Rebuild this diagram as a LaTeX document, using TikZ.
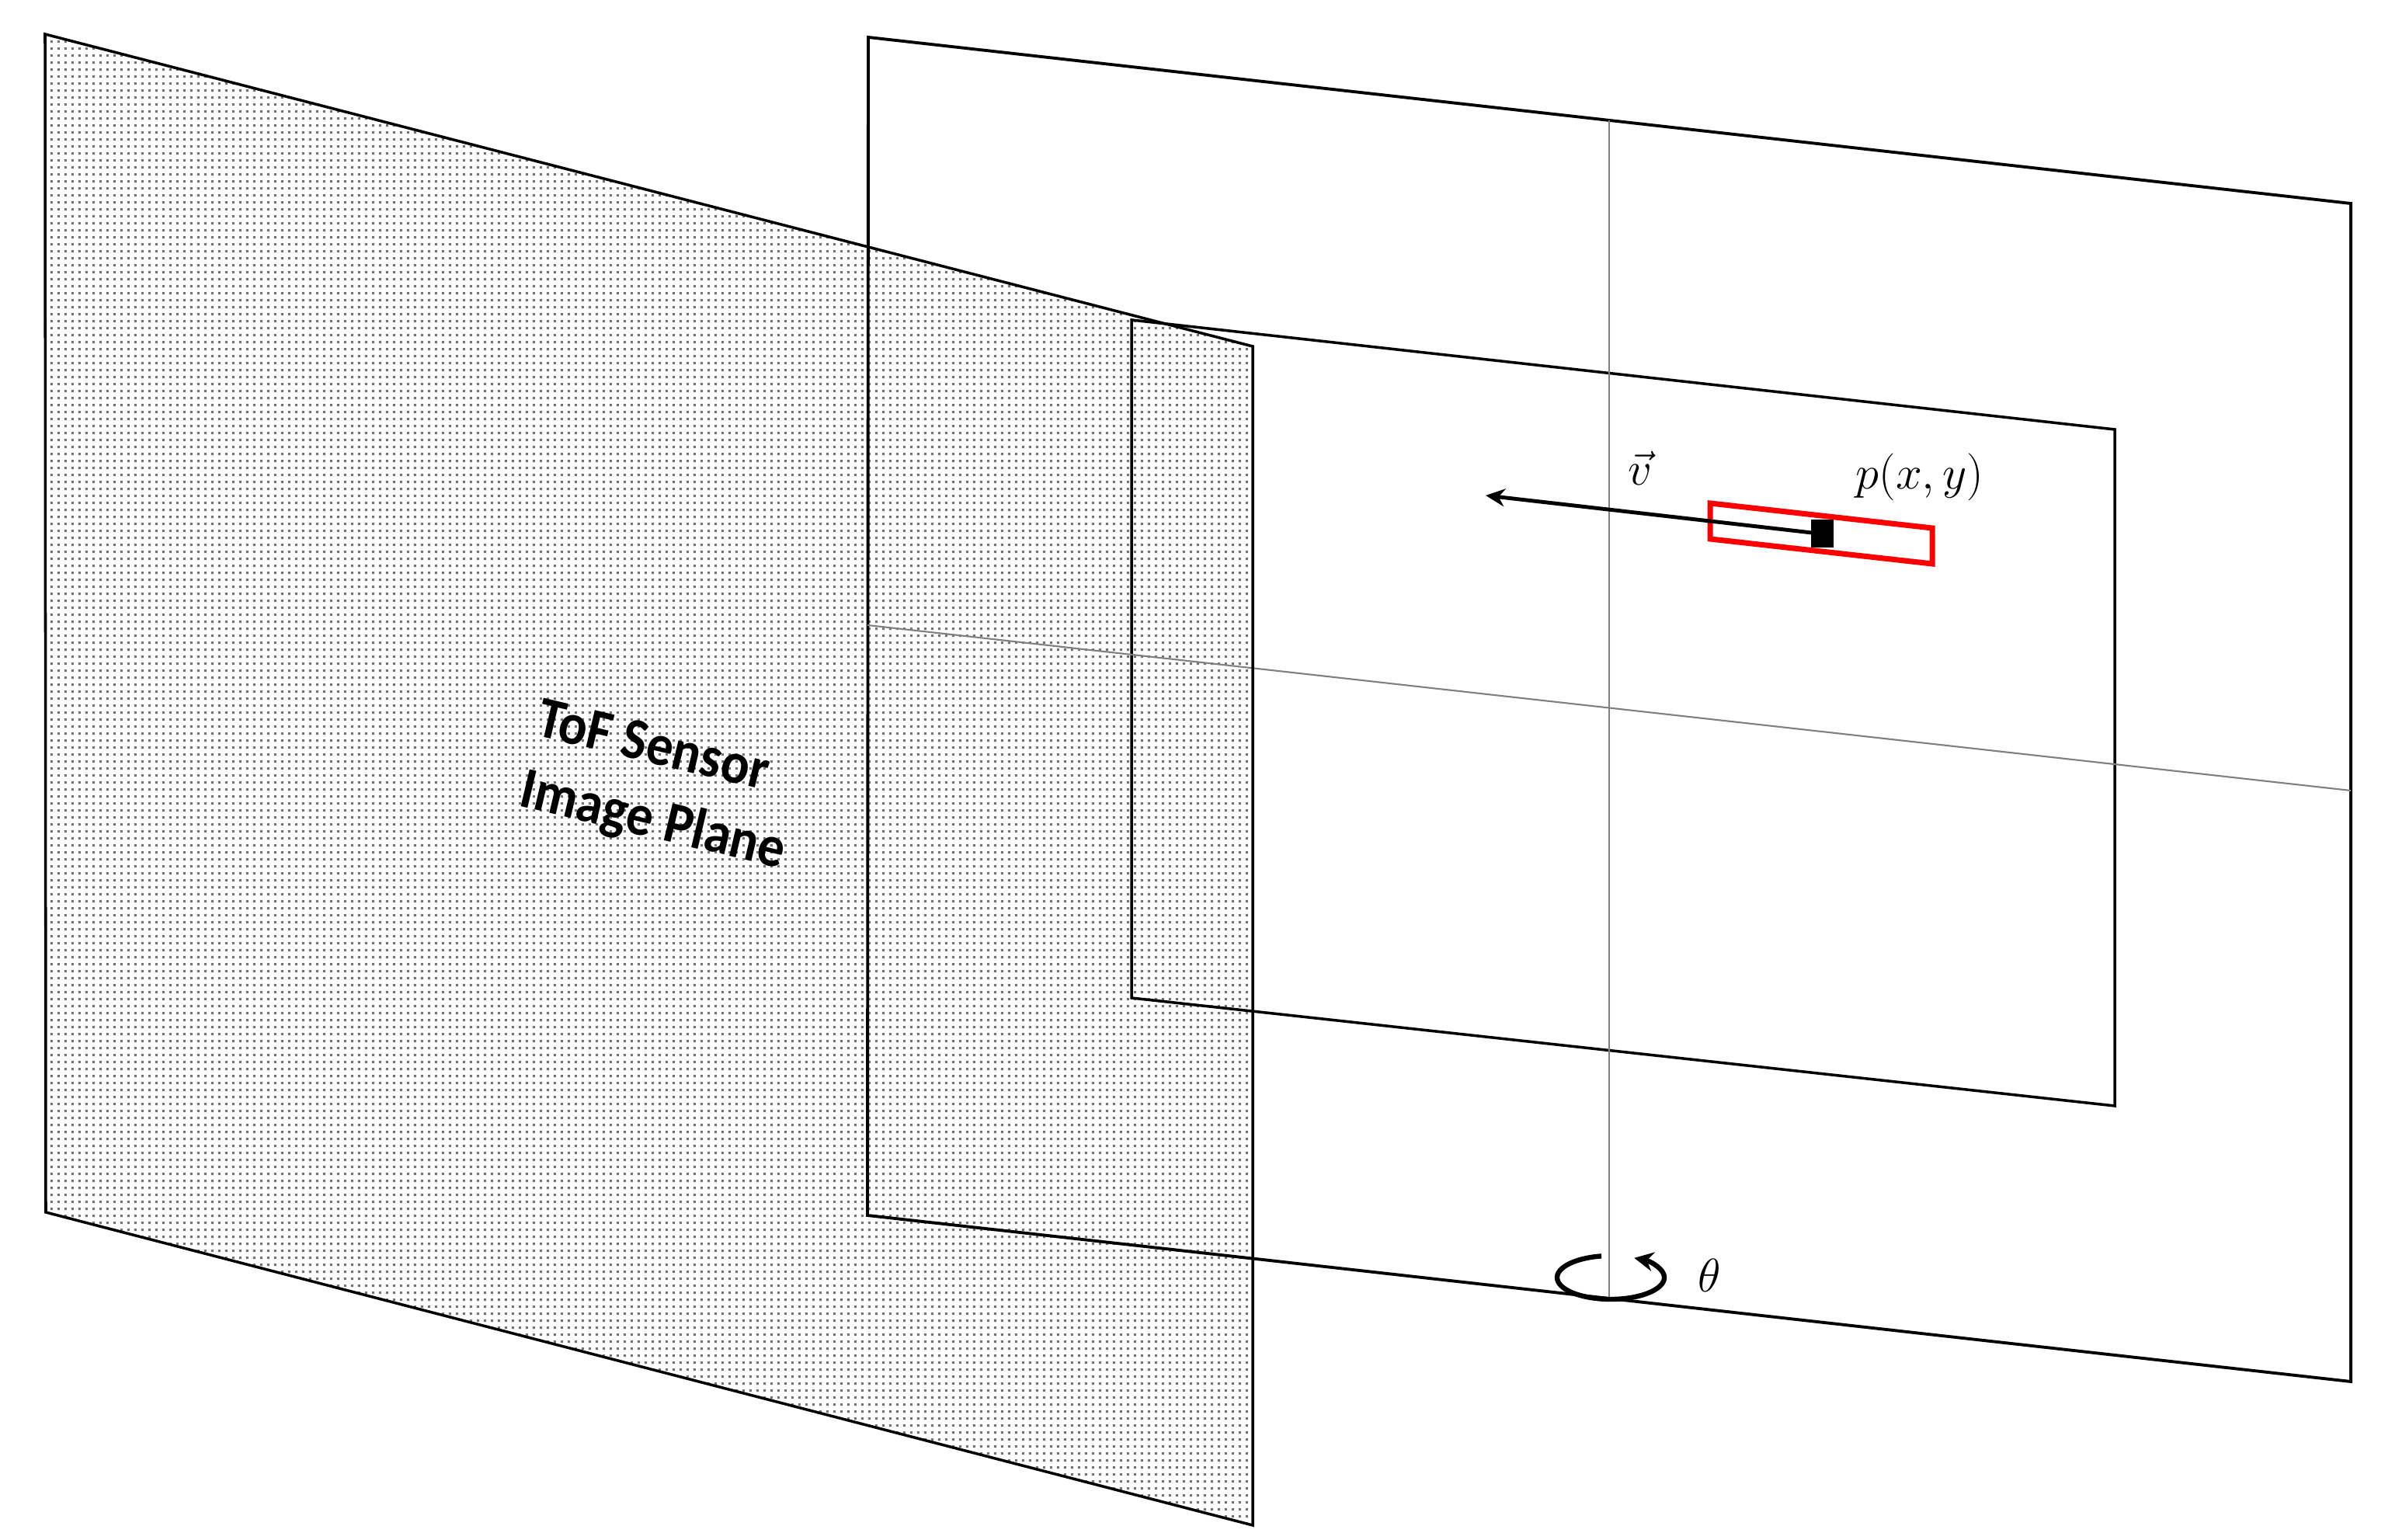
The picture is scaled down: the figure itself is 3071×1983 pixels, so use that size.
\documentclass[tikz,border=0pt]{standalone}
\usepackage{fontspec}
\newfontfamily\labelfont{Carlito}
\usetikzlibrary{patterns.meta,arrows.meta}

\tikzdeclarepattern{
  name=sensordots,
  type=uncolored,
  bounding box={(0pt,0pt) and (2.55pt,2.55pt)},
  tile size={(2.55pt,2.55pt)},
  code={\fill (0.85pt,0.85pt) rectangle (1.7pt,1.7pt);}
}

\begin{document}
\begin{tikzpicture}[x=0.01cm,y=-0.01cm,
  frame/.style={draw=black,line width=1.1pt,line join=miter},
  axisline/.style={draw=black!50,line width=0.6pt},
  planelabel/.style={font=\labelfont\bfseries\fontsize{19.5}{22}\selectfont,rotate=-13.4,anchor=base,inner sep=0pt},
  mathlabel/.style={font=\fontsize{17}{20}\selectfont,anchor=base,inner sep=0pt},
  vecarrow/.style={draw=black,line width=1.4pt,-{Stealth[length=7pt,width=6.5pt]}},
  rotarrow/.style={draw=black,line width=1.8pt,-{Stealth[length=7pt,width=7pt]}},
  redbox/.style={draw=red,line width=2pt,line join=miter}]

\useasboundingbox (0,0) rectangle (3071,1983);
\fill[white] (0,0) rectangle (3071,1983);

% sensor plane
\coordinate (s1) at (58,44);
\coordinate (s2) at (1613,446);
\coordinate (s3) at (1613,1964);
\coordinate (s4) at (59,1561);
\fill[pattern=sensordots,pattern color=black!55] (s1) -- (s2) -- (s3) -- (s4) -- cycle;

% outer plane
\coordinate (o1) at (1118,48);
\coordinate (o2) at (3027,262);
\coordinate (o3) at (3027,1779);
\coordinate (o4) at (1117,1565);
\draw[frame] (o1) -- (o2) -- (o3) -- (o4) -- cycle;

% inner plane
\coordinate (i1) at (1457,412);
\coordinate (i2) at (2723,553);
\coordinate (i3) at (2723,1424);
\coordinate (i4) at (1457,1285);
\draw[frame,line width=1pt] (i1) -- (i2) -- (i3) -- (i4) -- cycle;

% axes
\coordinate (vtop) at (2072,155);
\coordinate (vbot) at (2072,1672);
\coordinate (hl) at (1117,805);
\coordinate (hr) at (3027,1018);
\draw[axisline] (vtop) -- (vbot);
\draw[axisline] (hl) -- (hr);

% sensor plane border
\draw[frame,line width=1pt] (s1) -- (s2) -- (s3) -- (s4) -- cycle;

\node[planelabel] (tof) at (836,982) {\scalebox{1}[1.1]{ToF Sensor}};
\node[planelabel] (imgp) at (836,1078) {\scalebox{1}[1.1]{Image Plane}};

% red box, vector, point
\coordinate (r1) at (2202,648);
\coordinate (r2) at (2488,680);
\coordinate (r3) at (2488,726);
\coordinate (r4) at (2202,694);
\draw[redbox] (r1) -- (r2) -- (r3) -- (r4) -- cycle;
\coordinate (vstart) at (2333,686);
\coordinate (vtip) at (1913,638);
\draw[vecarrow] (vstart) -- (vtip);
\fill[black] (2332,669) rectangle (2361,705);

\node[mathlabel] (vlab) at (2112,625) {$\vec{v}$};
\node[mathlabel] (plab) at (2472,630) {$p(x,y)$};

% rotation
\coordinate (rc) at (2074,1645);
\draw[rotarrow] ([shift={(260:69 and 28)}]rc) arc[start angle=260,end angle=-64,x radius=69,y radius=28];
\node[mathlabel] (thlab) at (2201,1664) {$\theta$};
\end{tikzpicture}
\end{document}
